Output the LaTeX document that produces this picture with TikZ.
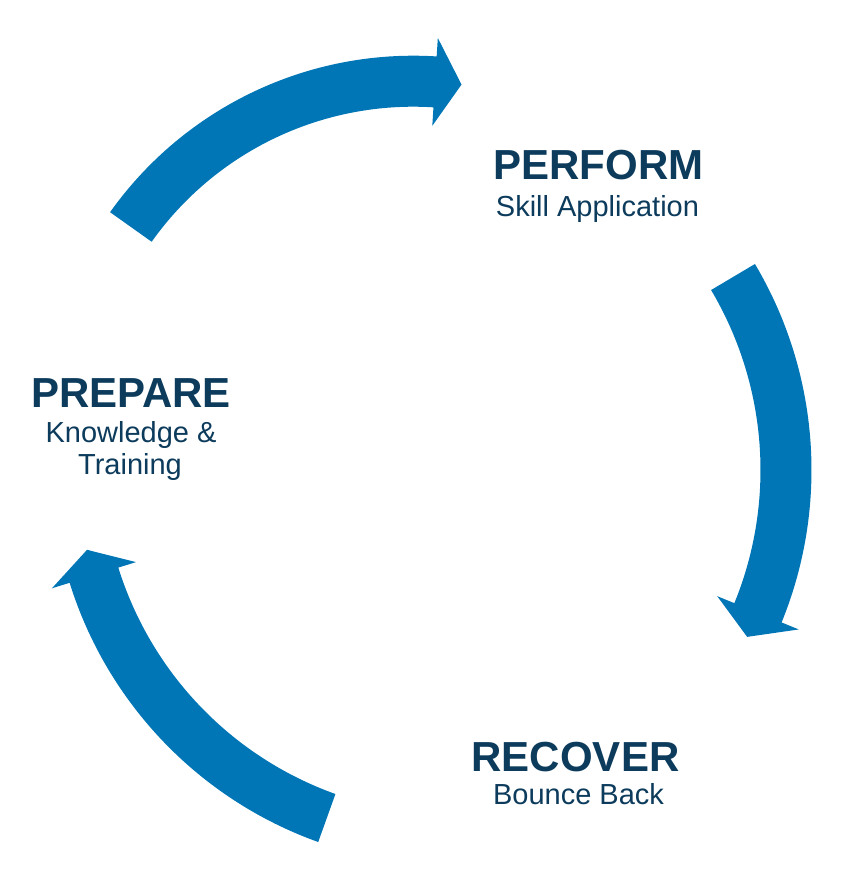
\documentclass[tikz,border=0pt]{standalone}
\usepackage{fontspec}
\setmainfont{Liberation Sans}
\definecolor{cycleblue}{RGB}{0,118,182}
\definecolor{labelnavy}{RGB}{12,59,92}
\tikzset{
  phase/.style={text=labelnavy, font=\bfseries\fontsize{42}{46}\selectfont, anchor=base, inner sep=0pt},
  detail/.style={text=labelnavy, font=\fontsize{29}{32}\selectfont, anchor=base, inner sep=0pt},
}
\begin{document}
\begin{tikzpicture}[x=1pt,y=1pt]
  \useasboundingbox (0,0) rectangle (847,893);
  % curved arrows: centre x / centre y / radius / tail angle / head angle / tip angle
  \foreach \cx/\cy/\r/\a/\b/\t in {413.3/465.3/346.5/144.6/86.4/82.0,
                                   408/423/378/30.7/-22.2/-26.2,
                                   453.9/429.9/377/250.3/197.3/193.3}{
    \pgfmathsetmacro\ro{\r+25.5}
    \pgfmathsetmacro\ri{\r-25.5}
    \pgfmathsetmacro\ho{\r+44}
    \pgfmathsetmacro\hi{\r-44}
    \begin{scope}[shift={(\cx,\cy)}]
      \fill[cycleblue] (\a:\ro) arc[start angle=\a, end angle=\b, radius=\ro pt]
        -- (\b:\ho) -- (\t:\r) -- (\b:\hi) -- (\b:\ri)
        arc[start angle=\b, end angle=\a, radius=\ri pt] -- cycle;
    \end{scope}
  }
  \node[phase] (perform) at (598.5,713) {PERFORM};
  \node[detail] (skill) at (597.5,676) {Skill Application};
  \node[phase] (prepare) at (131,485) {PREPARE};
  \node[detail] (knowledge) at (131,450) {Knowledge \&};
  \node[detail] (training) at (130,418) {Training};
  \node[phase] (recover) at (575.5,121) {RECOVER};
  \node[detail] (bounce) at (578.5,88) {Bounce Back};
\end{tikzpicture}
\end{document}
